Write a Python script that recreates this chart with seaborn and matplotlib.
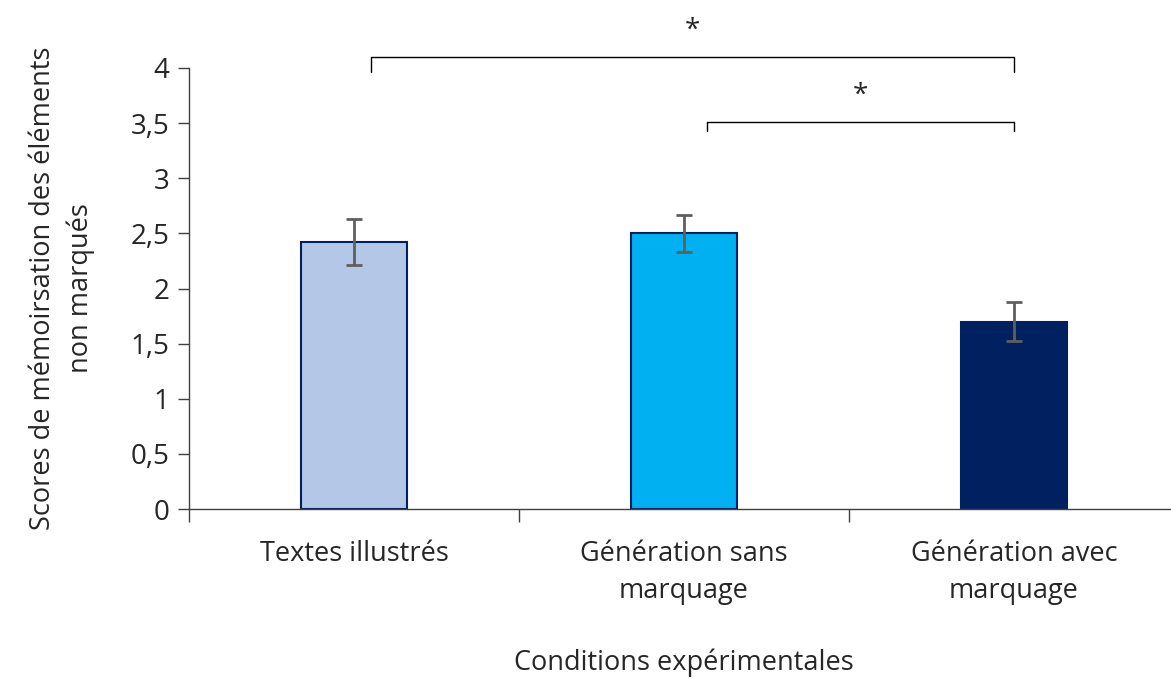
import matplotlib
matplotlib.use("Agg")
import matplotlib.pyplot as plt
import seaborn as sns
import pandas as pd

# data
conditions = ["Textes illustrés", "Génération sans\nmarquage", "Génération avec\nmarquage"]
scores = [2.42, 2.50, 1.70]
errors = [0.21, 0.17, 0.18]
bar_colors = ["#B4C7E7", "#00B0F0", "#002060"]

df = pd.DataFrame({"condition": conditions, "score": scores})

sns.set_style("white")
plt.rcParams["font.family"] = ["Open Sans", "DejaVu Sans"]

fig = plt.figure(figsize=(11.71, 6.79), dpi=100)
ax = fig.add_axes([189 / 1171, 1 - 509 / 679, 990 / 1171, 441 / 679])

sns.barplot(data=df, x="condition", y="score", hue="condition", palette=bar_colors,
            saturation=1, width=0.32, edgecolor="#002060", linewidth=1.5,
            errorbar=None, legend=False, ax=ax)
ax.errorbar(range(len(scores)), scores, yerr=errors, fmt="none", ecolor="#5f5f5f",
            elinewidth=2, capsize=6, capthick=2)

ax.set_ylim(0, 4)
ax.set_xlim(-0.5, 2.5)
ax.set_yticks([0, 0.5, 1, 1.5, 2, 2.5, 3, 3.5, 4])
ax.set_yticklabels(["0", "0,5", "1", "1,5", "2", "2,5", "3", "3,5", "4"], fontsize=20)

# Excel-style: ticks between categories, labels centered
ax.set_xticks([-0.5, 0.5, 1.5, 2.5])
ax.set_xticklabels([])
ax.set_xticks([0, 1, 2], minor=True)
ax.set_xticklabels(conditions, minor=True, fontsize=19.5, linespacing=1.45)
ax.tick_params(axis="x", which="major", bottom=True, length=9, width=1,
               color="#404040", direction="out")
ax.tick_params(axis="x", which="minor", bottom=True, length=0, pad=22)
ax.tick_params(axis="y", left=True, length=8, width=1, color="#404040",
               direction="out", pad=6)

for side in ["top", "right"]:
    ax.spines[side].set_visible(False)
for side in ["left", "bottom"]:
    ax.spines[side].set_color("#404040")
    ax.spines[side].set_linewidth(1)

ax.set_xlabel("Conditions expérimentales", fontsize=19.5, labelpad=31)
ax.set_ylabel("Scores de mémoirsation des éléments\nnon marqués", fontsize=19.5,
              labelpad=26, linespacing=1.4)

# significance brackets
def bracket(x1, x2, y, h, label):
    ax.plot([x1, x1, x2, x2], [y - h, y, y, y - h], color="black", lw=1, clip_on=False)
    ax.text((x1 + x2) / 2, y + 0.24, label, ha="center", va="center", fontsize=20,
            clip_on=False)

bracket(0.05, 2.0, 4.10, 0.14, "*")
bracket(1.07, 2.0, 3.51, 0.08, "*")

fig.savefig("out.png", dpi=100)
